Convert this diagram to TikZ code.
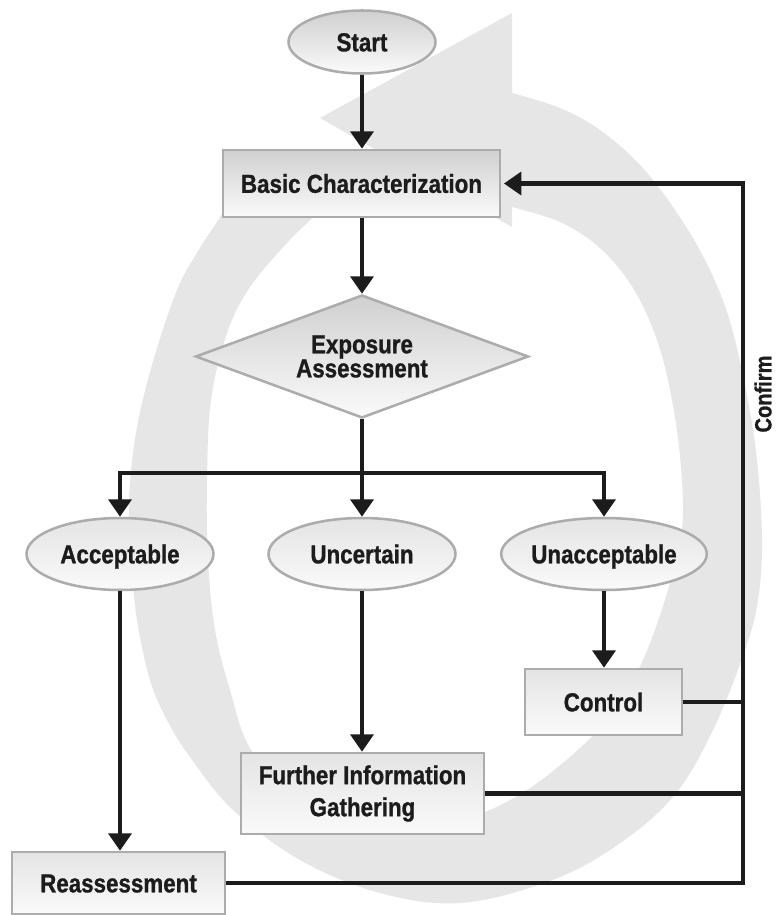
\documentclass[tikz,border=0pt]{standalone}
\usepackage{fontspec}
\setmainfont[FakeStretch=0.86, BoldFeatures={FakeBold=1}]{Liberation Sans}
\usetikzlibrary{shapes.geometric,arrows.meta,shadings}
\definecolor{bandgray}{RGB}{230,230,230}
\definecolor{edgegray}{RGB}{172,172,172}
\definecolor{ink}{RGB}{28,28,28}
\definecolor{darkfill}{RGB}{208,208,208}
\definecolor{midfill}{RGB}{228,228,228}
\definecolor{lightfill}{RGB}{250,250,250}
\begin{document}
\begin{tikzpicture}[x=0.75pt,y=-0.75pt,
  every node/.style={font=\fontsize{19.5}{24}\selectfont\bfseries, text=ink, inner sep=0pt},
  oneline/.style={text height=14pt, text depth=0pt},
  darkbox/.style={rectangle, draw=edgegray, line width=1.9pt, top color=darkfill, bottom color=lightfill},
  lightbox/.style={rectangle, draw=edgegray, line width=1.9pt, top color=midfill, bottom color=lightfill, align=center},
  oval/.style={ellipse, draw=edgegray, line width=1.9pt, top color=midfill, bottom color=lightfill, oneline},
  decision/.style={diamond, draw=edgegray, line width=1.9pt, top color=darkfill, bottom color=lightfill, align=center, aspect=2.7},
  flow/.style={draw=ink, line width=3.2pt, -{Triangle[length=13pt,width=17pt]}},
  plain/.style={draw=ink, line width=3.2pt},
]
\useasboundingbox (0,0) rectangle (777,915);
\fill[white] (0,0) rectangle (777,915);

% background circular arrow
\fill[bandgray] plot[smooth, tension=0.6] coordinates {
  (245,168) (223,212) (200,248) (177,290) (152,365) (136,433) (129,500) (131,560)
  (137,620) (150,680) (167,720) (190,757) (233,810) (300,860) (380,893) (460,903)
  (547,882) (613,848) (673,797) (713,730) (745,650) (758,600) (762,540) (757,460)
  (745,385) (728,315) (705,260) (675,210) (640,165) (600,130) (560,108) (512,93)}
  -- (512,13) -- (320,118) -- (512,227) -- (512,207)
  -- plot[smooth, tension=0.6] coordinates {
  (512,207) (560,222) (600,248) (633,288) (657,340) (672,400) (681,467) (682,530)
  (668,590) (643,660) (613,712) (580,748) (530,788) (480,814) (420,830) (350,818)
  (290,785) (250,748) (230,690) (215,630) (208,560) (207,480) (211,400) (227,333)
  (250,287) (287,243) (315,215) (330,195)}
  -- cycle;

% nodes
\node[oval, minimum width=110.25pt, minimum height=47.25pt, top color=darkfill] (start) at (362,42) {Start};
\node[darkbox, oneline, minimum width=207.75pt, minimum height=50.25pt] (basic) at (361.5,183.5) {Basic Characterization};
\node[decision, minimum width=249.75pt, minimum height=92.25pt, font=\fontsize{19.5}{18}\selectfont\bfseries] (expo) at (362,356.5) {Exposure\\Assessment};
\coordinate (split) at (362,473);
\node[oval, minimum width=140.25pt, minimum height=54pt] (acc) at (120,554) {Acceptable};
\node[oval, minimum width=140.25pt, minimum height=54pt] (unc) at (362,554) {Uncertain};
\node[oval, minimum width=140.25pt, minimum height=54pt] (unacc) at (604,554) {Unacceptable};
\node[lightbox, oneline, minimum width=117.75pt, minimum height=49.5pt] (ctrl) at (603.5,702) {Control};
\node[lightbox, minimum width=182.25pt, minimum height=60.75pt] (fig) at (362.5,793.5) {Further Information\\Gathering};
\node[lightbox, oneline, minimum width=159.75pt, minimum height=46.5pt] (reass) at (118.5,883) {Reassessment};
\coordinate (rail) at (743,883);

% connectors
\draw[flow] (start.south) -- (start.south |- basic.north);
\draw[flow] (basic.south -| expo.north) -- (expo.north);
\draw[plain] (expo.south) -- (split);
\draw[flow] (split) -| (acc.north);
\draw[flow] (split) -| (unacc.north);
\draw[flow] (split) -- (unc.north);
\draw[flow] (acc.south) -- (acc.south |- reass.north);
\draw[flow] (unc.south) -- (unc.south |- fig.north);
\draw[flow] (unacc.south) -- (unacc.south |- ctrl.north);
\draw[plain] (ctrl.east) -- (ctrl.east -| rail);
\draw[plain] (fig.east) -- (fig.east -| rail);
\draw[flow, shorten >=2pt] (reass.east) -- (rail) |- (basic.east);

\node[rotate=90, font=\fontsize{17.5}{20}\selectfont\bfseries, oneline] (confirm) at (762,394) {Confirm};
\end{tikzpicture}
\end{document}
